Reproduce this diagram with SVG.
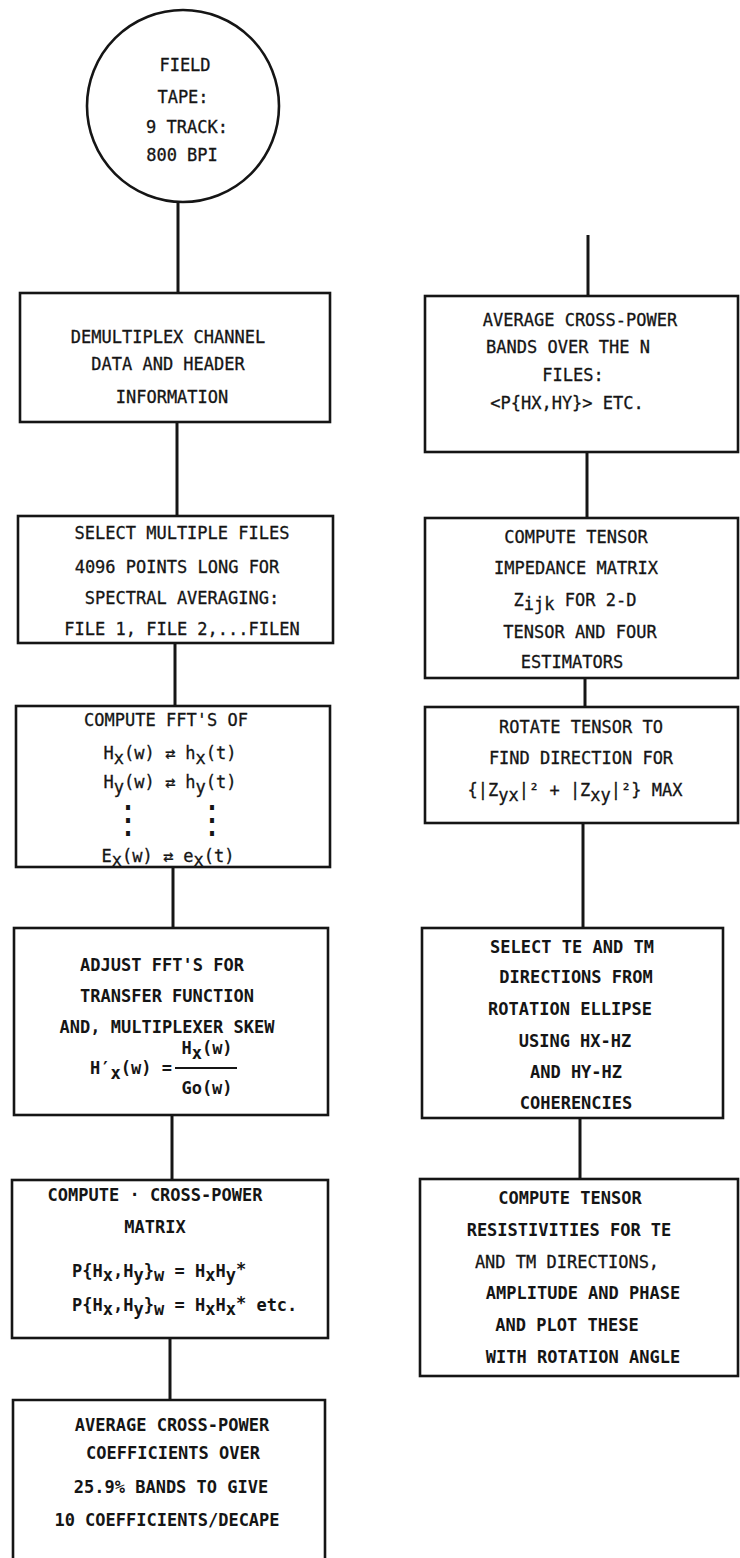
<svg xmlns="http://www.w3.org/2000/svg" width="740" height="1558" viewBox="0 0 740 1558">
<style>
.bx{fill:none;stroke:#151515;stroke-width:2.6}
.cn{stroke:#151515;stroke-width:3;fill:none}
text{font-family:"DejaVu Sans Mono","Liberation Mono",monospace;font-size:17px;fill:#151515;stroke:#151515;stroke-width:0.3}
.m{text-anchor:middle}
.b{font-weight:bold;stroke-width:0}
.dots{font-size:38px;stroke-width:0}
</style>
<rect width="740" height="1558" fill="#ffffff"/>
<g id="connectors">
<line class="cn" x1="178" y1="202" x2="178" y2="293"/>
<line class="cn" x1="177" y1="422" x2="177" y2="516"/>
<line class="cn" x1="175" y1="643" x2="175" y2="706"/>
<line class="cn" x1="173" y1="867" x2="173" y2="928"/>
<line class="cn" x1="172" y1="1115" x2="172" y2="1180"/>
<line class="cn" x1="170" y1="1338" x2="170" y2="1400"/>
<line class="cn" x1="588" y1="235" x2="588" y2="296"/>
<line class="cn" x1="587" y1="452" x2="587" y2="518"/>
<line class="cn" x1="585" y1="678" x2="585" y2="707"/>
<line class="cn" x1="583" y1="823" x2="583" y2="928"/>
<line class="cn" x1="580" y1="1118" x2="580" y2="1179"/>
</g>
<g id="field-tape">
<circle class="bx" cx="183" cy="106" r="96" stroke-width="3"/>
<text class="m" x="185" y="71">FIELD</text>
<text class="m" x="183" y="103">TAPE:</text>
<text class="m" x="187" y="133">9 TRACK:</text>
<text class="m" x="182" y="161">800 BPI</text>
</g>
<g id="demultiplex">
<rect class="bx" x="20" y="293" width="310" height="129"/>
<text class="m" x="168" y="343">DEMULTIPLEX CHANNEL</text>
<text class="m" x="168" y="370">DATA AND HEADER</text>
<text class="m" x="172" y="403">INFORMATION</text>
</g>
<g id="select-files">
<rect class="bx" x="18" y="516" width="315" height="127"/>
<text class="m" x="182" y="539">SELECT MULTIPLE FILES</text>
<text class="m" x="177" y="573">4096 POINTS LONG FOR</text>
<text class="m" x="182" y="604">SPECTRAL AVERAGING:</text>
<text class="m" x="182" y="635">FILE 1, FILE 2,...FILEN</text>
</g>
<g id="compute-fft">
<rect class="bx" x="16" y="706" width="314" height="161"/>
<text class="m" x="166" y="726">COMPUTE FFT'S OF</text>
<text class="m" x="170" y="759">H<tspan dy="5">x</tspan><tspan dy="-5">(w) ⇄ h</tspan><tspan dy="5">x</tspan><tspan dy="-5">(t)</tspan></text>
<text class="m" x="170" y="788">H<tspan dy="5">y</tspan><tspan dy="-5">(w) ⇄ h</tspan><tspan dy="5">y</tspan><tspan dy="-5">(t)</tspan></text>
<text class="m dots" x="128" y="833">⋮</text>
<text class="m dots" x="212" y="833">⋮</text>
<text class="m" x="168" y="862">E<tspan dy="4">x</tspan><tspan dy="-4">(w) ⇄ e</tspan><tspan dy="4">x</tspan><tspan dy="-4">(t)</tspan></text>
</g>
<g id="adjust-fft">
<rect class="bx" x="14" y="928" width="314" height="187"/>
<text class="m b" x="162" y="971">ADJUST FFT'S FOR</text>
<text class="m b" x="167" y="1002">TRANSFER FUNCTION</text>
<text class="m b" x="167" y="1033">AND, MULTIPLEXER SKEW</text>
<text class="b" x="90" y="1074">H′<tspan dy="5">x</tspan><tspan dy="-5">(w) =</tspan></text>
<text class="m b" x="207" y="1054">H<tspan dy="5">x</tspan><tspan dy="-5">(w)</tspan></text>
<line x1="175" y1="1068" x2="237" y2="1068" stroke="#151515" stroke-width="2"/>
<text class="m b" x="207" y="1094">Go(w)</text>
</g>
<g id="cross-power-matrix">
<rect class="bx" x="12" y="1180" width="316" height="158"/>
<text class="m b" x="155" y="1201">COMPUTE · CROSS-POWER</text>
<text class="m b" x="155" y="1233">MATRIX</text>
<text class="b" x="72" y="1277">P{H<tspan dy="4">x</tspan><tspan dy="-4">,H</tspan><tspan dy="4">y</tspan><tspan dy="-4">}</tspan><tspan dy="4">w</tspan><tspan dy="-4"> = H</tspan><tspan dy="4">x</tspan><tspan dy="-4">H</tspan><tspan dy="4">y</tspan><tspan dy="-6">*</tspan></text>
<text class="b" x="72" y="1311">P{H<tspan dy="4">x</tspan><tspan dy="-4">,H</tspan><tspan dy="4">y</tspan><tspan dy="-4">}</tspan><tspan dy="4">w</tspan><tspan dy="-4"> = H</tspan><tspan dy="4">x</tspan><tspan dy="-4">H</tspan><tspan dy="4">x</tspan><tspan dy="-6">*</tspan><tspan dy="2"> etc.</tspan></text>
</g>
<g id="average-coefficients">
<path class="bx" d="M13,1562 V1400 H325 V1562"/>
<text class="m b" x="172" y="1431">AVERAGE CROSS-POWER</text>
<text class="m b" x="173" y="1459">COEFFICIENTS OVER</text>
<text class="m b" x="171" y="1493">25.9% BANDS TO GIVE</text>
<text class="m b" x="167" y="1526">10 COEFFICIENTS/DECAPE</text>
</g>
<g id="average-bands">
<rect class="bx" x="425" y="296" width="313" height="156"/>
<text class="m" x="580" y="326">AVERAGE CROSS-POWER</text>
<text class="m" x="568" y="353">BANDS OVER THE N</text>
<text class="m" x="573" y="381">FILES:</text>
<text class="m" x="567" y="409">&lt;P{HX,HY}&gt; ETC.</text>
</g>
<g id="impedance-matrix">
<rect class="bx" x="425" y="518" width="313" height="160"/>
<text class="m" x="576" y="543">COMPUTE TENSOR</text>
<text class="m" x="576" y="574">IMPEDANCE MATRIX</text>
<text class="m" x="575" y="606">Z<tspan dy="4">ijk</tspan><tspan dy="-4"> FOR 2-D</tspan></text>
<text class="m" x="580" y="638">TENSOR AND FOUR</text>
<text class="m" x="572" y="668">ESTIMATORS</text>
</g>
<g id="rotate-tensor">
<rect class="bx" x="425" y="707" width="313" height="116"/>
<text class="m" x="581" y="733">ROTATE TENSOR TO</text>
<text class="m" x="581" y="764">FIND DIRECTION FOR</text>
<text class="m" x="575" y="796">{|Z<tspan dy="5">yx</tspan><tspan dy="-5">|² + |Z</tspan><tspan dy="5">xy</tspan><tspan dy="-5">|²} MAX</tspan></text>
</g>
<g id="select-te-tm">
<rect class="bx" x="422" y="928" width="301" height="190"/>
<text class="m b" x="572" y="953">SELECT TE AND TM</text>
<text class="m b" x="576" y="983">DIRECTIONS FROM</text>
<text class="m b" x="570" y="1015">ROTATION ELLIPSE</text>
<text class="m b" x="575" y="1047">USING HX-HZ</text>
<text class="m b" x="576" y="1078">AND HY-HZ</text>
<text class="m b" x="576" y="1109">COHERENCIES</text>
</g>
<g id="tensor-resistivities">
<rect class="bx" x="420" y="1179" width="318" height="197"/>
<text class="m b" x="570" y="1204">COMPUTE TENSOR</text>
<text class="m b" x="569" y="1236">RESISTIVITIES FOR TE</text>
<text class="m" x="567" y="1268">AND TM DIRECTIONS,</text>
<text class="m b" x="583" y="1299">AMPLITUDE AND PHASE</text>
<text class="m b" x="567" y="1331">AND PLOT THESE</text>
<text class="m b" x="583" y="1363">WITH ROTATION ANGLE</text>
</g>
</svg>
